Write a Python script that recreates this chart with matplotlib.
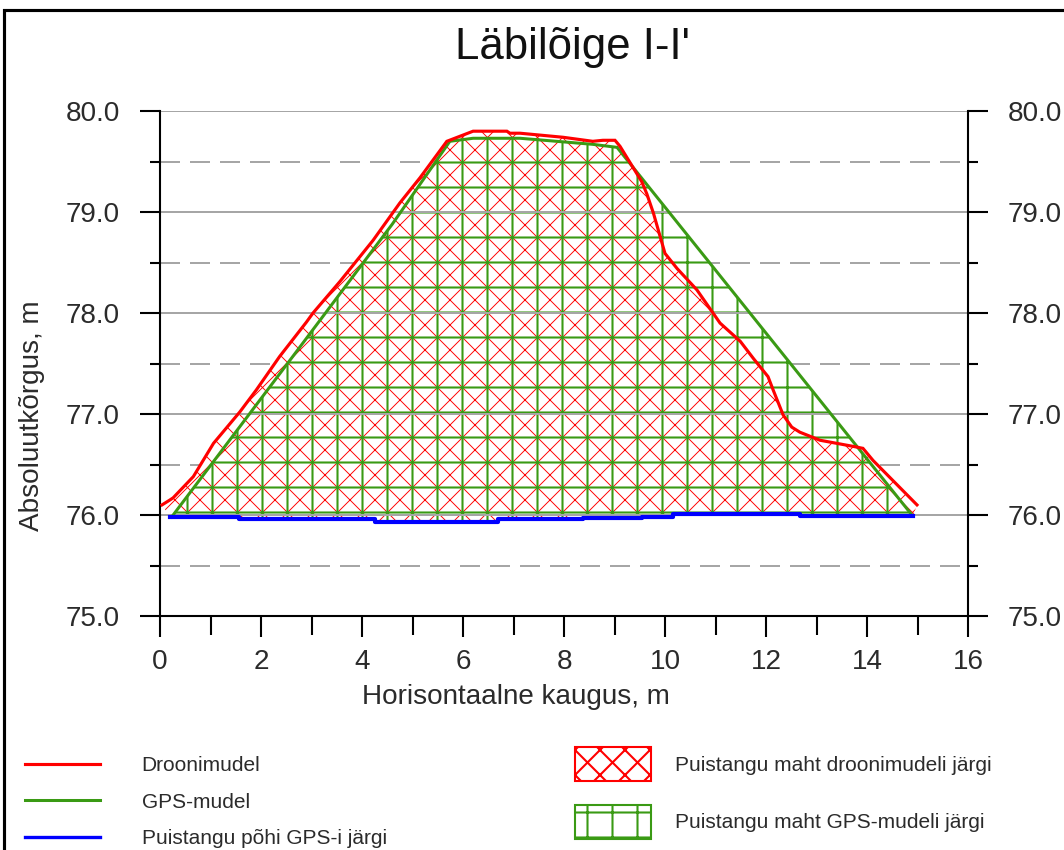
import numpy as np
import matplotlib
matplotlib.use("Agg")
import matplotlib.pyplot as plt
from matplotlib.patches import Polygon, Rectangle, Patch
from matplotlib.lines import Line2D
from matplotlib.ticker import FixedLocator, FixedFormatter

plt.rcParams['font.family'] = ['Liberation Sans', 'DejaVu Sans']

# ---------------- data ----------------
title = "Läbilõige I-I'"
xlabel = "Horisontaalne kaugus, m"
ylabel = "Absoluutkõrgus, m"

drone_x = [0.04, 0.20, 0.26, 0.66, 1.06, 1.58, 1.91, 2.37, 2.90, 3.03, 3.56, 4.22,
           4.75, 5.15, 5.68, 6.20, 6.87, 6.93, 7.13, 7.98, 8.57, 8.77, 9.01, 9.11,
           9.54, 9.64, 9.77, 10.00, 10.24, 10.63, 11.09, 11.49, 11.75, 12.04, 12.14,
           12.34, 12.51, 12.67, 13.07, 13.72, 13.92, 14.12, 14.99]
drone_y = [76.10, 76.15, 76.17, 76.38, 76.71, 77.02, 77.24, 77.57, 77.91, 78.00, 78.31, 78.72,
           79.09, 79.34, 79.70, 79.80, 79.80, 79.78, 79.78, 79.74, 79.70, 79.71, 79.71, 79.65,
           79.30, 79.18, 78.99, 78.59, 78.44, 78.23, 77.90, 77.72, 77.55, 77.37, 77.24,
           76.99, 76.87, 76.82, 76.74, 76.68, 76.66, 76.54, 76.10]

gps_x = [0.23, 2.60, 4.60, 5.74, 6.20, 7.13, 8.57, 9.05, 14.89]
gps_y = [75.98, 77.55, 78.88, 79.70, 79.73, 79.73, 79.67, 79.64, 76.00]

base_x = [0.20, 1.56, 4.26, 6.69, 8.38, 9.54, 10.16, 12.67, 14.91]
base_y = [75.98, 75.96, 75.93, 75.96, 75.97, 75.98, 76.01, 75.99, 75.99]

x_major = [0, 2, 4, 6, 8, 10, 12, 14, 16]
x_minor = [1, 3, 5, 7, 9, 11, 13, 15]
y_major = [75.0, 76.0, 77.0, 78.0, 79.0, 80.0]
y_minor = [75.5, 76.5, 77.5, 78.5, 79.5]

line_labels = ["Droonimudel", "GPS-mudel", "Puistangu põhi GPS-i järgi"]
area_labels = ["Puistangu maht droonimudeli järgi", "Puistangu maht GPS-mudeli järgi"]

RED = "#ff0000"
GREEN = "#3a9a14"
BLUE = "#0000ff"
GRID = "#a6a6a6"
TXT = "#2b2b2b"

# ---------------- figure ----------------
W, H, DPI = 1064, 850, 150
fig = plt.figure(figsize=(W / DPI, H / DPI), dpi=DPI)
fig.patch.set_facecolor("white")
ax = fig.add_axes([160 / W, 1 - 616 / H, 808 / W, 505 / H])
ax.set_xlim(0, 16)
ax.set_ylim(75, 80)

# step base outline
sx = np.repeat(base_x, 2)[1:]
sy = np.repeat(base_y, 2)[:-1]

red_poly = np.column_stack([np.concatenate([drone_x, sx[::-1]]),
                            np.concatenate([drone_y, sy[::-1]])])
green_poly = np.column_stack([np.concatenate([gps_x, sx[::-1]]),
                              np.concatenate([gps_y, sy[::-1]])])

def hatched(poly, fc, ec, hatch, hlw, z):
    with plt.rc_context({'hatch.linewidth': hlw}):
        p = Polygon(poly, closed=True, facecolor=fc, edgecolor=ec, hatch=hatch,
                    linewidth=0, zorder=z)
    if hasattr(p, "set_hatch_linewidth"):
        p.set_hatch_linewidth(hlw)
    ax.add_patch(p)
    return p

# white backgrounds hide the dashed minor grid
ax.add_patch(Polygon(green_poly, closed=True, facecolor="white", edgecolor="none", zorder=1.0))
hatched(red_poly, "white", RED, "xx", 0.45, 1.1)
hatched(green_poly, "none", GREEN, "+", 1.0, 1.2)

# grids: dashed minor below fill, solid major above fill
ax.set_axisbelow(True)
ax.yaxis.set_major_locator(FixedLocator(y_major))
ax.yaxis.set_minor_locator(FixedLocator(y_minor))
ax.yaxis.set_major_formatter(FixedFormatter([f"{v:.1f}" for v in y_major]))
ax.xaxis.set_major_locator(FixedLocator(x_major))
ax.xaxis.set_minor_locator(FixedLocator(x_minor))
ax.xaxis.set_major_formatter(FixedFormatter([str(v) for v in x_major]))
ax.grid(which="minor", axis="y", color=GRID, linewidth=0.96, linestyle=(0, (10, 5)))
for v in y_major[1:]:
    ax.axhline(v, color=GRID, linewidth=0.96, zorder=1.5)

# lines
ax.plot(gps_x, gps_y, color=GREEN, linewidth=1.45, zorder=3, solid_joinstyle="miter")
ax.plot(drone_x, drone_y, color=RED, linewidth=1.5, zorder=4, solid_joinstyle="miter")
ax.plot(base_x, base_y, color=BLUE, linewidth=2.0, zorder=5, drawstyle="steps-post")

# spines & ticks
ax.spines["top"].set_visible(False)
for s in ("left", "right", "bottom"):
    ax.spines[s].set_linewidth(1.0)
    ax.spines[s].set_color("black")
ax.tick_params(axis="y", which="major", left=True, right=True, labelleft=True, labelright=True,
               direction="out", length=9.6, width=1.0, pad=9.6, labelsize=13.4, labelcolor=TXT)
ax.tick_params(axis="y", which="minor", left=True, right=True, direction="out", length=4.8, width=1.0)
ax.tick_params(axis="x", which="major", direction="out", length=10, width=1.0, pad=6,
               labelsize=13.4, labelcolor=TXT)
ax.tick_params(axis="x", which="minor", direction="out", length=9, width=1.0)

# texts
fig.text(572 / W, 1 - 59 / H, title, ha="center", va="baseline", fontsize=21, color="#111111")
fig.text(516 / W, 1 - 704 / H, xlabel, ha="center", va="baseline", fontsize=13.4, color=TXT)
fig.text(32 / W, 1 - 416 / H, ylabel, ha="center", va="center", rotation=90, fontsize=13.4, color=TXT)

# legends
line_handles = [Line2D([], [], color=RED, lw=1.5),
                Line2D([], [], color=GREEN, lw=1.45),
                Line2D([], [], color=BLUE, lw=1.6)]
leg1 = fig.legend(line_handles, line_labels, loc="center left",
                  bbox_to_anchor=(25 / W, 1 - 802 / H), frameon=False, fontsize=10,
                  handlelength=3.6, handletextpad=2.0, labelspacing=0.85,
                  borderpad=0, borderaxespad=0)
for t in leg1.get_texts():
    t.set_color(TXT)

with plt.rc_context({'hatch.linewidth': 0.55}):
    ph1 = Patch(facecolor="white", edgecolor=RED, hatch="xx", linewidth=1.0)
with plt.rc_context({'hatch.linewidth': 1.0}):
    ph2 = Patch(facecolor="white", edgecolor=GREEN, hatch="+", linewidth=1.0)
leg2 = fig.legend([ph1, ph2], area_labels, loc="center left",
                  bbox_to_anchor=(575 / W, 1 - 793 / H), frameon=False, fontsize=10,
                  handlelength=3.65, handleheight=2.1, handletextpad=1.15, labelspacing=1.15,
                  borderpad=0, borderaxespad=0)
for t in leg2.get_texts():
    t.set_color(TXT)

# outer frame (cut off at right and bottom like the reference)
fig.add_artist(Rectangle((4 / W, -0.2), 1.5, 1 - 10 / H + 0.2, transform=fig.transFigure,
                         fill=False, edgecolor="black", linewidth=1.5, zorder=10))

fig.savefig("out.png", dpi=DPI)
